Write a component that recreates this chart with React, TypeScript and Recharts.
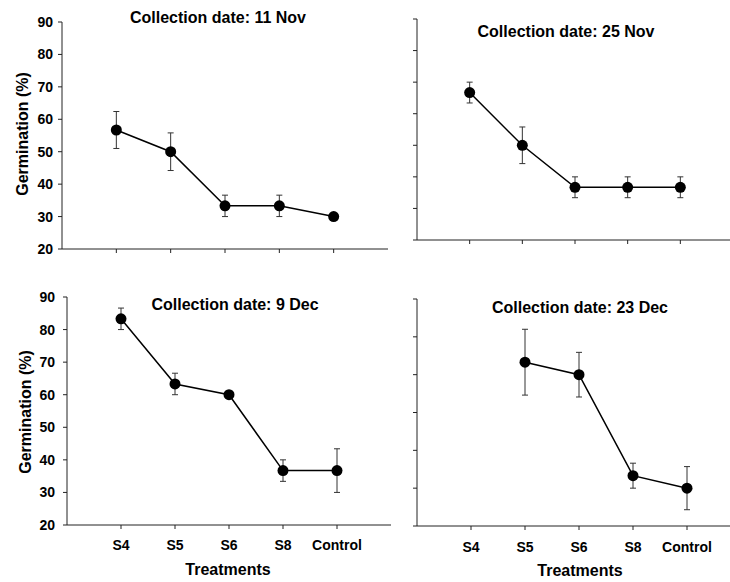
import React from 'react';
import { LineChart, Line, XAxis, YAxis, ErrorBar } from 'recharts';

// treatments along the x axis (placed at 1..5 on a 0..6 numeric axis)
const treatments = ['S4', 'S5', 'S6', 'S8', 'Control'];
const xTicks = [1, 2, 3, 4, 5];
const yTicks = [20, 30, 40, 50, 60, 70, 80, 90];
const yTicksDec23 = [20, 30, 40, 50, 60, 70, 80];

// germination (%) and error (+/-) per collection date
const nov11Values = [56.7, 50, 33.3, 33.3, 30];
const nov11Errors = [5.7, 5.8, 3.3, 3.3, 0];
const nov25Values = [66.7, 50, 36.7, 36.7, 36.7];
const nov25Errors = [3.3, 5.8, 3.3, 3.3, 3.3];
const dec9Values = [83.3, 63.3, 60, 36.7, 36.7];
const dec9Errors = [3.3, 3.3, 0, 3.3, 6.7];
const dec23Values = [null, 63.3, 60, 33.3, 30];
const dec23Errors = [null, 8.7, 5.9, 3.3, 5.7];

const FONT = '"Liberation Sans", Arial, sans-serif';

const buildRows = (values: (number | null)[], errors: (number | null)[]) =>
  treatments
    .map((name, i) => ({ x: i + 1, name, value: values[i], err: errors[i] }))
    .filter((r) => r.value !== null);

interface PanelProps {
  left: number;
  top: number;
  width: number;
  height: number;
  margin: { top: number; right: number; bottom: number; left: number };
  yAxisWidth: number;
  xAxisHeight: number;
  yDomain: [number, number];
  ticks: number[];
  showYLabels: boolean;
  showXLabels: boolean;
  yTickMargin: number;
  xTickMargin: number;
  data: Array<{ x: number; name: string; value: number | null; err: number | null }>;
}

const Panel: React.FC<PanelProps> = (p) => {
  const tickStyle = { fill: '#000', fontSize: 14, fontWeight: 'bold', fontFamily: FONT };
  return (
    <div style={{ position: 'absolute', left: p.left, top: p.top }}>
      <LineChart width={p.width} height={p.height} data={p.data} margin={p.margin}>
        <XAxis
          type="number"
          dataKey="x"
          domain={[0, 6]}
          ticks={xTicks}
          height={p.xAxisHeight}
          tickSize={4}
          tickMargin={p.xTickMargin}
          interval={0}
          axisLine={{ stroke: '#222' }}
          tickLine={{ stroke: '#222' }}
          tick={tickStyle}
          tickFormatter={(v: number) => (p.showXLabels ? treatments[v - 1] : '')}
        />
        <YAxis
          type="number"
          domain={p.yDomain}
          ticks={p.ticks}
          width={p.yAxisWidth}
          tickSize={4}
          tickMargin={p.yTickMargin}
          interval={0}
          axisLine={{ stroke: '#222' }}
          tickLine={{ stroke: '#222' }}
          tick={tickStyle}
          tickFormatter={(v: number) => (p.showYLabels ? String(v) : '')}
        />
        <Line
          type="linear"
          dataKey="value"
          stroke="#000"
          strokeWidth={1.5}
          dot={{ r: 5.5, fill: '#000', stroke: '#000', strokeWidth: 0 }}
          activeDot={false}
          isAnimationActive={false}
        >
          <ErrorBar dataKey="err" direction="y" width={3} stroke="#333" strokeWidth={1} />
        </Line>
      </LineChart>
    </div>
  );
};

const App: React.FC = () => {
  const titleStyle = { fontSize: 16, fontWeight: 'bold', fontFamily: FONT, fill: '#000' } as const;
  return (
    <div
      style={{
        position: 'absolute',
        left: 0,
        top: 0,
        width: 730,
        height: 582,
        overflow: 'hidden',
        background: '#fff',
      }}
    >
      <Panel
        left={0}
        top={0}
        width={400}
        height={290}
        margin={{ top: 22, right: 12, bottom: 0, left: 0 }}
        yAxisWidth={62}
        xAxisHeight={41}
        yDomain={[20, 90]}
        ticks={yTicks}
        showYLabels
        showXLabels={false}
        yTickMargin={5}
        xTickMargin={11}
        data={buildRows(nov11Values, nov11Errors)}
      />
      <Panel
        left={365}
        top={0}
        width={372}
        height={290}
        margin={{ top: 19, right: 4, bottom: 0, left: 0 }}
        yAxisWidth={52}
        xAxisHeight={50}
        yDomain={[20, 90]}
        ticks={yTicks}
        showYLabels={false}
        showXLabels={false}
        yTickMargin={5}
        xTickMargin={11}
        data={buildRows(nov25Values, nov25Errors)}
      />
      <Panel
        left={0}
        top={290}
        width={400}
        height={292}
        margin={{ top: 7, right: 9, bottom: 0, left: 0 }}
        yAxisWidth={67}
        xAxisHeight={57}
        yDomain={[20, 90]}
        ticks={yTicks}
        showYLabels
        showXLabels
        yTickMargin={8}
        xTickMargin={11}
        data={buildRows(dec9Values, dec9Errors)}
      />
      <Panel
        left={365}
        top={290}
        width={380}
        height={292}
        margin={{ top: 9, right: 4, bottom: 0, left: 0 }}
        yAxisWidth={52}
        xAxisHeight={56}
        yDomain={[20, 80]}
        ticks={yTicksDec23}
        showYLabels={false}
        showXLabels
        yTickMargin={5}
        xTickMargin={12}
        data={buildRows(dec23Values, dec23Errors)}
      />
      <svg
        width={730}
        height={582}
        style={{ position: 'absolute', left: 0, top: 0, pointerEvents: 'none' }}
      >
        <text x={218} y={23} textAnchor="middle" style={titleStyle}>Collection date: 11 Nov</text>
        <text x={566} y={37} textAnchor="middle" style={titleStyle}>Collection date: 25 Nov</text>
        <text x={235} y={310} textAnchor="middle" style={titleStyle}>Collection date: 9 Dec</text>
        <text x={580} y={313} textAnchor="middle" style={titleStyle}>Collection date: 23 Dec</text>
        <text x={28} y={134} textAnchor="middle" transform="rotate(-90 28 134)" style={titleStyle}>
          Germination (%)
        </text>
        <text x={31} y={412} textAnchor="middle" transform="rotate(-90 31 412)" style={titleStyle}>
          Germination (%)
        </text>
        <text x={228} y={575} textAnchor="middle" style={titleStyle}>Treatments</text>
        <text x={580} y={576} textAnchor="middle" style={titleStyle}>Treatments</text>
      </svg>
    </div>
  );
};

export default App;
